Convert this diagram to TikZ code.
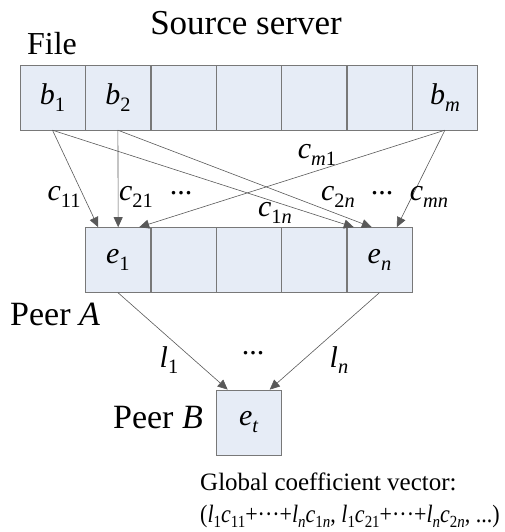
\documentclass[tikz,border=0pt]{standalone}
\usepackage{fontspec}
\setmainfont{Liberation Serif}
\usepackage{graphicx}
\usepackage{xcolor}
\usepackage{tikz}
\usetikzlibrary{arrows.meta,positioning,calc}

\definecolor{cellfill}{RGB}{230,236,246}
\definecolor{cellline}{RGB}{120,120,120}
\newcommand{\vsub}[2]{\textit{#1}\raisebox{-0.22em}{\scalebox{0.68}{#2}}}

\begin{document}
\begin{tikzpicture}[
    x=1pt, y=-1pt,
    cell/.style={rectangle, draw=cellline, fill=cellfill, minimum width=65pt, minimum height=65pt, inner sep=0pt, font=\fontsize{30}{36}\selectfont},
    lbl/.style={font=\fontsize{30}{36}\selectfont, inner sep=0pt},
    arr/.style={-{Triangle[length=10pt,width=9pt]}, draw=black!65, line width=0.6pt}
  ]
    \useasboundingbox (0,0) rectangle (505,532);
    % source server: file blocks
    \node[lbl, font=\fontsize{35}{40}\selectfont, anchor=base] (src) at (246,35) {Source server};
    \node[lbl, font=\fontsize{32}{36}\selectfont, anchor=base] (file) at (52,55) {File};
    \node[cell] (f1) at (52.5,97.5) {\vsub{b}{1}};
    \node[cell, right=0pt of f1] (f2) {\vsub{b}{2}};
    \node[cell, right=0pt of f2] (f3) {};
    \node[cell, right=0pt of f3] (f4) {};
    \node[cell, right=0pt of f4] (f5) {};
    \node[cell, right=0pt of f5] (f6) {};
    \node[cell, right=0pt of f6] (fm) {\vsub{b}{\textit{m}}};
    % peer A: encoded blocks
    \node[cell, below=97pt of f2] (e1) {\vsub{e}{1}};
    \node[cell, right=0pt of e1] (e2) {};
    \node[cell, right=0pt of e2] (e3) {};
    \node[cell, right=0pt of e3] (e4) {};
    \node[cell, right=0pt of e4] (en) {\vsub{e}{\textit{n}}};
    \node[lbl, font=\fontsize{34}{40}\selectfont, anchor=base west] (peerA) at (10,325) {Peer \textit{A}};
    % peer B
    \node[cell, below=97pt of e3] (et) {\vsub{e}{\textit{t}}};
    \node[lbl, font=\fontsize{34}{40}\selectfont, anchor=base east] (peerB) at (203,428) {Peer \textit{B}};
    % coefficients
    \draw[arr] (f1.south) -- ([xshift=13pt]e1.north west);
    \draw[arr] (f1.south) -- ([xshift=7pt]en.north west);
    \draw[arr] (f2.south) -- ([xshift=33pt]e1.north west);
    \draw[arr] (f2.south) -- ([xshift=25pt]en.north west);
    \draw[arr] (fm.south) -- ([xshift=54pt]e1.north west);
    \draw[arr] (fm.south) -- ([xshift=50pt]en.north west);
    \node[lbl] (c11) at (64,197) {\vsub{c}{11}};
    \node[lbl] (c21) at (136,197) {\vsub{c}{21}};
    \node[lbl] (dots1) at (181,193) {...};
    \node[lbl] (c1n) at (275,213) {\vsub{c}{1\textit{n}}};
    \node[lbl] (cm1) at (317,155) {\vsub{c}{\textit{m}1}};
    \node[lbl] (c2n) at (338,197) {\vsub{c}{2\textit{n}}};
    \node[lbl] (dots2) at (382,193) {...};
    \node[lbl] (cmn) at (429,197) {\vsub{c}{\textit{mn}}};
    % peer A to peer B
    \draw[arr] (e1.south) -- ([xshift=-21pt]et.north);
    \draw[arr] (en.south) -- ([xshift=21pt]et.north);
    \node[lbl] (l1) at (169,360) {\vsub{l}{1}};
    \node[lbl] (dots3) at (253,353) {...};
    \node[lbl] (ln) at (339,360) {\vsub{l}{\textit{n}}};
    % global vector
    \node[lbl, font=\fontsize{25}{32}\selectfont, anchor=base west] (gcv) at (200,490) {Global coefficient vector:};
    \node[lbl, font=\fontsize{25}{32}\selectfont, anchor=base west] (gsum) at (200,522)
      {\scalebox{0.88}[1]{(\vsub{l}{1}\vsub{c}{11}+···+\vsub{l}{\textit{n}}\vsub{c}{1\textit{n}}, \vsub{l}{1}\vsub{c}{21}+···+\vsub{l}{\textit{n}}\vsub{c}{2\textit{n}}, ...)}};
\end{tikzpicture}
\end{document}
